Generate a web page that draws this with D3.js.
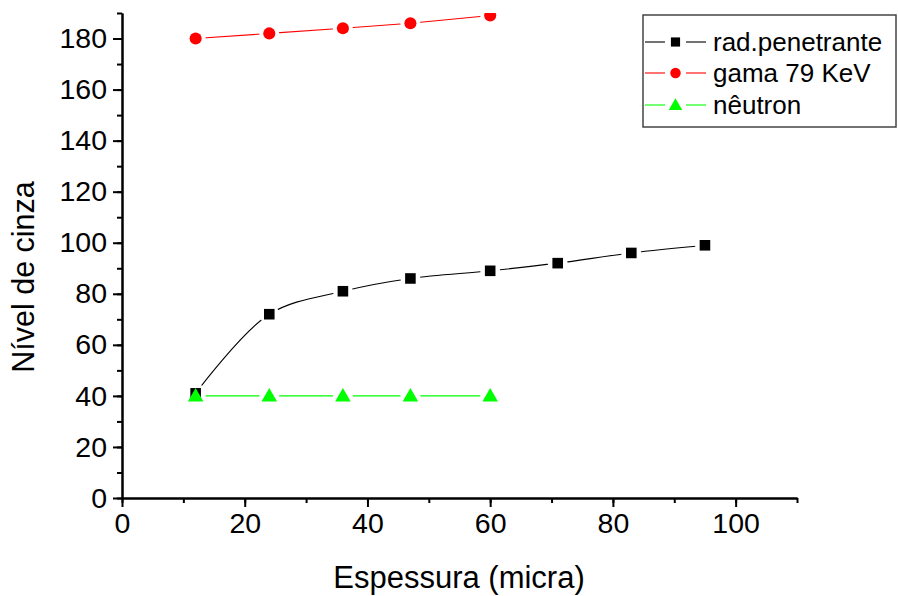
<!DOCTYPE html>
<html>
<head>
<meta charset="utf-8">
<script src="https://cdn.jsdelivr.net/npm/d3@7"></script>
<style>
  body { margin: 0; background: #fff; }
  text { font-family: "Liberation Sans", Arial, sans-serif; fill: #000; }
</style>
</head>
<body>
<div id="chart"></div>
<script>
// data
const xRad = [12, 24, 36, 47, 60, 71, 83, 95];
const yRad = [41, 72, 81, 86, 89, 92, 96, 99];
const xGama = [12, 24, 36, 47, 60];
const yGama = [180, 182, 184, 186, 189];
const xNeutron = [12, 24, 36, 47, 60];
const yNeutron = [40, 40, 40, 40, 40];
const seriesNames = ["rad.penetrante", "gama 79 KeV", "nêutron"];
const xTicks = [0, 20, 40, 60, 80, 100];
const yTicks = [0, 20, 40, 60, 80, 100, 120, 140, 160, 180];

let width = 898, height = 596;
let plotLeft = 122, plotRight = 797, plotTop = 13, plotBottom = 498;

let svg = d3.select("#chart").append("svg")
  .attr("width", width)
  .attr("height", height);

let x = d3.scaleLinear().domain([0, 110]).range([plotLeft, plotRight]);
let y = d3.scaleLinear().domain([0, 190]).range([plotBottom, plotTop]);

let defs = svg.append("defs");
defs.append("clipPath").attr("id", "plotclip")
  .append("rect")
  .attr("x", plotLeft).attr("y", plotTop)
  .attr("width", plotRight - plotLeft + 10).attr("height", plotBottom - plotTop);

let series = [
  {name: seriesNames[0], xs: xRad, ys: yRad, color: "#000", shape: d3.symbolSquare, size: 112, curve: d3.curveCatmullRom.alpha(0.5)},
  {name: seriesNames[1], xs: xGama, ys: yGama, color: "#ff0000", shape: d3.symbolCircle, size: 115, curve: d3.curveLinear},
  {name: seriesNames[2], xs: xNeutron, ys: yNeutron, color: "#00ff00", shape: d3.symbolTriangle, size: 105, curve: d3.curveLinear}
];

let gap = 10;

let plot = svg.append("g").attr("clip-path", "url(#plotclip)");

series.forEach(function(s, i) {
  let pts = s.xs.map((v, j) => [v, s.ys[j]]);

  // mask so that the line stops short of each marker
  let mask = defs.append("mask").attr("id", "mask" + i).attr("maskUnits", "userSpaceOnUse")
    .attr("x", 0).attr("y", 0).attr("width", width).attr("height", height);
  mask.append("rect").attr("width", width).attr("height", height).attr("fill", "white");
  mask.selectAll("circle").data(pts).enter().append("circle")
    .attr("cx", d => x(d[0])).attr("cy", d => y(d[1])).attr("r", gap).attr("fill", "black");

  let line = d3.line().x(d => x(d[0])).y(d => y(d[1])).curve(s.curve);
  plot.append("path")
    .attr("d", line(pts))
    .attr("fill", "none")
    .attr("stroke", s.color)
    .attr("stroke-width", 1.1)
    .attr("mask", "url(#mask" + i + ")");
});

series.forEach(function(s) {
  let pts = s.xs.map((v, j) => [v, s.ys[j]]);
  plot.selectAll(null).data(pts).enter().append("path")
    .attr("d", d3.symbol().type(s.shape).size(s.size))
    .attr("transform", d => `translate(${x(d[0])},${y(d[1]) + (s.shape === d3.symbolTriangle ? 1 : 0)})`)
    .attr("fill", s.color);
});

// axes
let xAxisMinor = d3.axisBottom(x).tickValues(d3.range(0, 111, 10)).tickSize(5).tickSizeOuter(0).tickFormat("");
let xAxis = d3.axisBottom(x).tickValues(xTicks).tickSize(9).tickSizeOuter(0).tickPadding(6);
let yAxisMinor = d3.axisLeft(y).tickValues(d3.range(0, 191, 10)).tickSize(5).tickSizeOuter(0).tickFormat("");
let yAxis = d3.axisLeft(y).tickValues(yTicks).tickSize(9).tickSizeOuter(0).tickPadding(6);

function styleAxis(g) {
  g.select(".domain").attr("stroke", "#000").attr("stroke-width", 2);
  g.selectAll(".tick line").attr("stroke", "#000").attr("stroke-width", 2);
  g.selectAll("text").style("font-size", "28.5px").attr("fill", "#000");
}

svg.append("g").attr("transform", `translate(0,${plotBottom})`).call(xAxisMinor).call(styleAxis);
svg.append("g").attr("transform", `translate(0,${plotBottom})`).call(xAxis).call(styleAxis);
svg.append("g").attr("transform", `translate(${plotLeft},0)`).call(yAxisMinor).call(styleAxis);
svg.append("g").attr("transform", `translate(${plotLeft},0)`).call(yAxis).call(styleAxis);

// axis titles
svg.append("text")
  .attr("x", 459).attr("y", 588)
  .attr("text-anchor", "middle")
  .style("font-size", "31px")
  .text("Espessura (micra)");

svg.append("text")
  .attr("transform", `translate(34,${277}) rotate(-90)`)
  .attr("text-anchor", "middle")
  .style("font-size", "30.5px")
  .text("Nível de cinza");

// legend
let legend = svg.append("g");
legend.append("rect")
  .attr("x", 643).attr("y", 15)
  .attr("width", 253).attr("height", 112)
  .attr("fill", "#fff")
  .attr("stroke", "#444")
  .attr("stroke-width", 1.5);

let rowY = [42, 73, 105];
series.forEach(function(s, i) {
  let g = legend.append("g").attr("transform", `translate(0,${rowY[i]})`);
  g.append("line").attr("x1", 645).attr("x2", 665).attr("stroke", s.color).attr("stroke-width", 1.1);
  g.append("line").attr("x1", 686).attr("x2", 706).attr("stroke", s.color).attr("stroke-width", 1.1);
  g.append("path")
    .attr("d", d3.symbol().type(s.shape).size(s.size * 0.75))
    .attr("transform", `translate(675.5,${s.shape === d3.symbolTriangle ? 1 : 0})`)
    .attr("fill", s.color);
  g.append("text")
    .attr("x", 713).attr("y", 9)
    .style("font-size", "26px")
    .text(s.name);
});
</script>
</body>
</html>
